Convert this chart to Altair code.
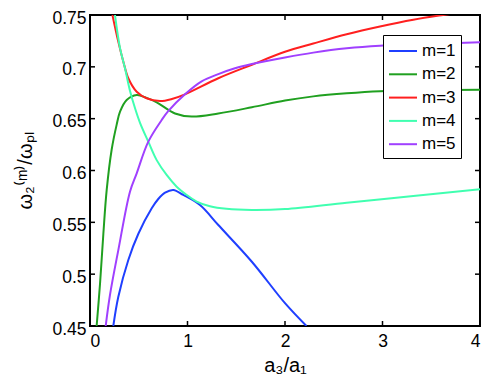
import altair as alt
import pandas as pd

# ---- data ----
m1_x = [0.239, 0.29, 0.393, 0.496, 0.633, 0.70, 0.77, 0.855, 0.957, 1.128, 1.316, 1.66, 2.0, 2.22]
m1_y = [0.45, 0.478, 0.5137, 0.539, 0.5635, 0.5725, 0.5786, 0.5812, 0.5764, 0.5667, 0.5474, 0.512, 0.472, 0.45]

m2_x = [0.068, 0.103, 0.137, 0.171, 0.222, 0.273, 0.308, 0.376, 0.479, 0.58, 0.684, 0.872, 1.043, 1.316, 1.66,
        2.0, 2.29, 2.633, 2.974, 3.5, 4.0]
m2_y = [0.45, 0.491, 0.539, 0.581, 0.620, 0.644, 0.6567, 0.668, 0.6728, 0.670, 0.6658, 0.655, 0.652, 0.655, 0.661,
        0.6675, 0.6715, 0.6745, 0.6765, 0.6775, 0.678]

m3_x = [0.23, 0.29, 0.342, 0.393, 0.479, 0.58, 0.718, 0.84, 0.974, 1.316, 1.66, 2.0, 2.29, 2.633, 2.974,
        3.316, 3.62, 4.0]
m3_y = [0.75, 0.7243, 0.705, 0.689, 0.676, 0.6697, 0.667, 0.669, 0.6735, 0.689, 0.702, 0.7145, 0.7225, 0.7315,
        0.739, 0.7455, 0.75, 0.755]

m4_x = [0.256, 0.308, 0.359, 0.41, 0.462, 0.513, 0.598, 0.684, 0.786, 0.889, 0.992, 1.094, 1.23, 1.4, 1.66,
        2.0, 2.633, 3.316, 4.0]
m4_y = [0.75, 0.718, 0.6986, 0.677, 0.660, 0.646, 0.6278, 0.610, 0.5957, 0.5844, 0.5764, 0.570, 0.5655, 0.563,
        0.5619, 0.5628, 0.569, 0.5754, 0.5819]

m5_x = [0.161, 0.205, 0.29, 0.41, 0.479, 0.598, 0.735, 0.80, 0.974, 1.145, 1.316, 1.487, 1.66, 2.0, 2.29,
        2.633, 2.974, 3.5, 4.0]
m5_y = [0.45, 0.48, 0.523, 0.5796, 0.5973, 0.6278, 0.6487, 0.657, 0.6735, 0.686, 0.693, 0.6986, 0.7027, 0.709,
        0.7137, 0.7179, 0.7204, 0.7222, 0.7236]

series_names = ["m=1", "m=2", "m=3", "m=4", "m=5"]
series_colors = ["#1f3fff", "#20a020", "#ff1f1f", "#40ffb0", "#a040ff"]
x_ticks = [0, 1, 2, 3, 4]
y_ticks = [0.45, 0.5, 0.55, 0.6, 0.65, 0.7, 0.75]

rows = []
for name, xs, ys in zip(series_names, [m1_x, m2_x, m3_x, m4_x, m5_x], [m1_y, m2_y, m3_y, m4_y, m5_y]):
    for i, (a, b) in enumerate(zip(xs, ys)):
        rows.append({"series": name, "x": a, "y": b, "order": i})
df = pd.DataFrame(rows)
xt = pd.DataFrame({"x": x_ticks})
yt = pd.DataFrame({"y": y_ticks})

W, H = 390, 311
FONT = "Liberation Sans"
xscale = alt.Scale(domain=[0, 4], nice=False, zero=False)
yscale = alt.Scale(domain=[0.45, 0.75], nice=False, zero=False)
x_axis = alt.Axis(values=x_ticks, format="d", title="a\u2083/a\u2081", labelPadding=6, titlePadding=6)
y_axis = alt.Axis(values=y_ticks, format=".2~f", labelOffset=3,
                  title="\u03c9\u2082\u207d\u1d50\u207e/\u03c9\u209a\u2097",
                  labelPadding=4, titlePadding=16)
X = alt.X("x:Q", scale=xscale, axis=x_axis)
Y = alt.Y("y:Q", scale=yscale, axis=y_axis)

lines = alt.Chart(df).mark_line(strokeWidth=2, clip=True, interpolate="catmull-rom").encode(
    x=X, y=Y,
    color=alt.Color("series:N",
                    scale=alt.Scale(domain=series_names, range=series_colors),
                    legend=alt.Legend(title=None, orient="none", legendX=293, legendY=20,
                                      strokeColor="black", fillColor="white", padding=5,
                                      symbolType="M-1.4,0H1.4", symbolSize=400, symbolStrokeWidth=2,
                                      symbolOffset=4, labelOffset=8,
                                      labelFontSize=17, labelFont=FONT, labelColor="black",
                                      rowPadding=4.3)),
    order="order:Q",
)

tick_style = dict(color="black", strokeWidth=1.5)
bottom_ticks = alt.Chart(xt).mark_rule(**tick_style).encode(x=X, y=alt.value(H), y2=alt.value(H - 5))
top_ticks = alt.Chart(xt).mark_rule(**tick_style).encode(x=X, y=alt.value(0), y2=alt.value(5))
left_ticks = alt.Chart(yt).mark_rule(**tick_style).encode(y=Y, x=alt.value(0), x2=alt.value(5))
right_ticks = alt.Chart(yt).mark_rule(**tick_style).encode(y=Y, x=alt.value(W - 5), x2=alt.value(W))

chart = alt.layer(lines, bottom_ticks, top_ticks, left_ticks, right_ticks).properties(
    width=W, height=H,
    autosize=alt.AutoSizeParams(type="none"),
    padding={"left": 82, "top": 7, "right": 3, "bottom": 51},
).configure_view(
    stroke="black", strokeWidth=2
).configure_axis(
    domain=False, ticks=False, grid=False,
    labelFont=FONT, labelFontSize=17.5, labelColor="black",
    titleFont=FONT, titleFontSize=20, titleFontWeight="normal", titleColor="black",
)

chart.save("out.html", embed_options={"renderer": "svg", "actions": False})
